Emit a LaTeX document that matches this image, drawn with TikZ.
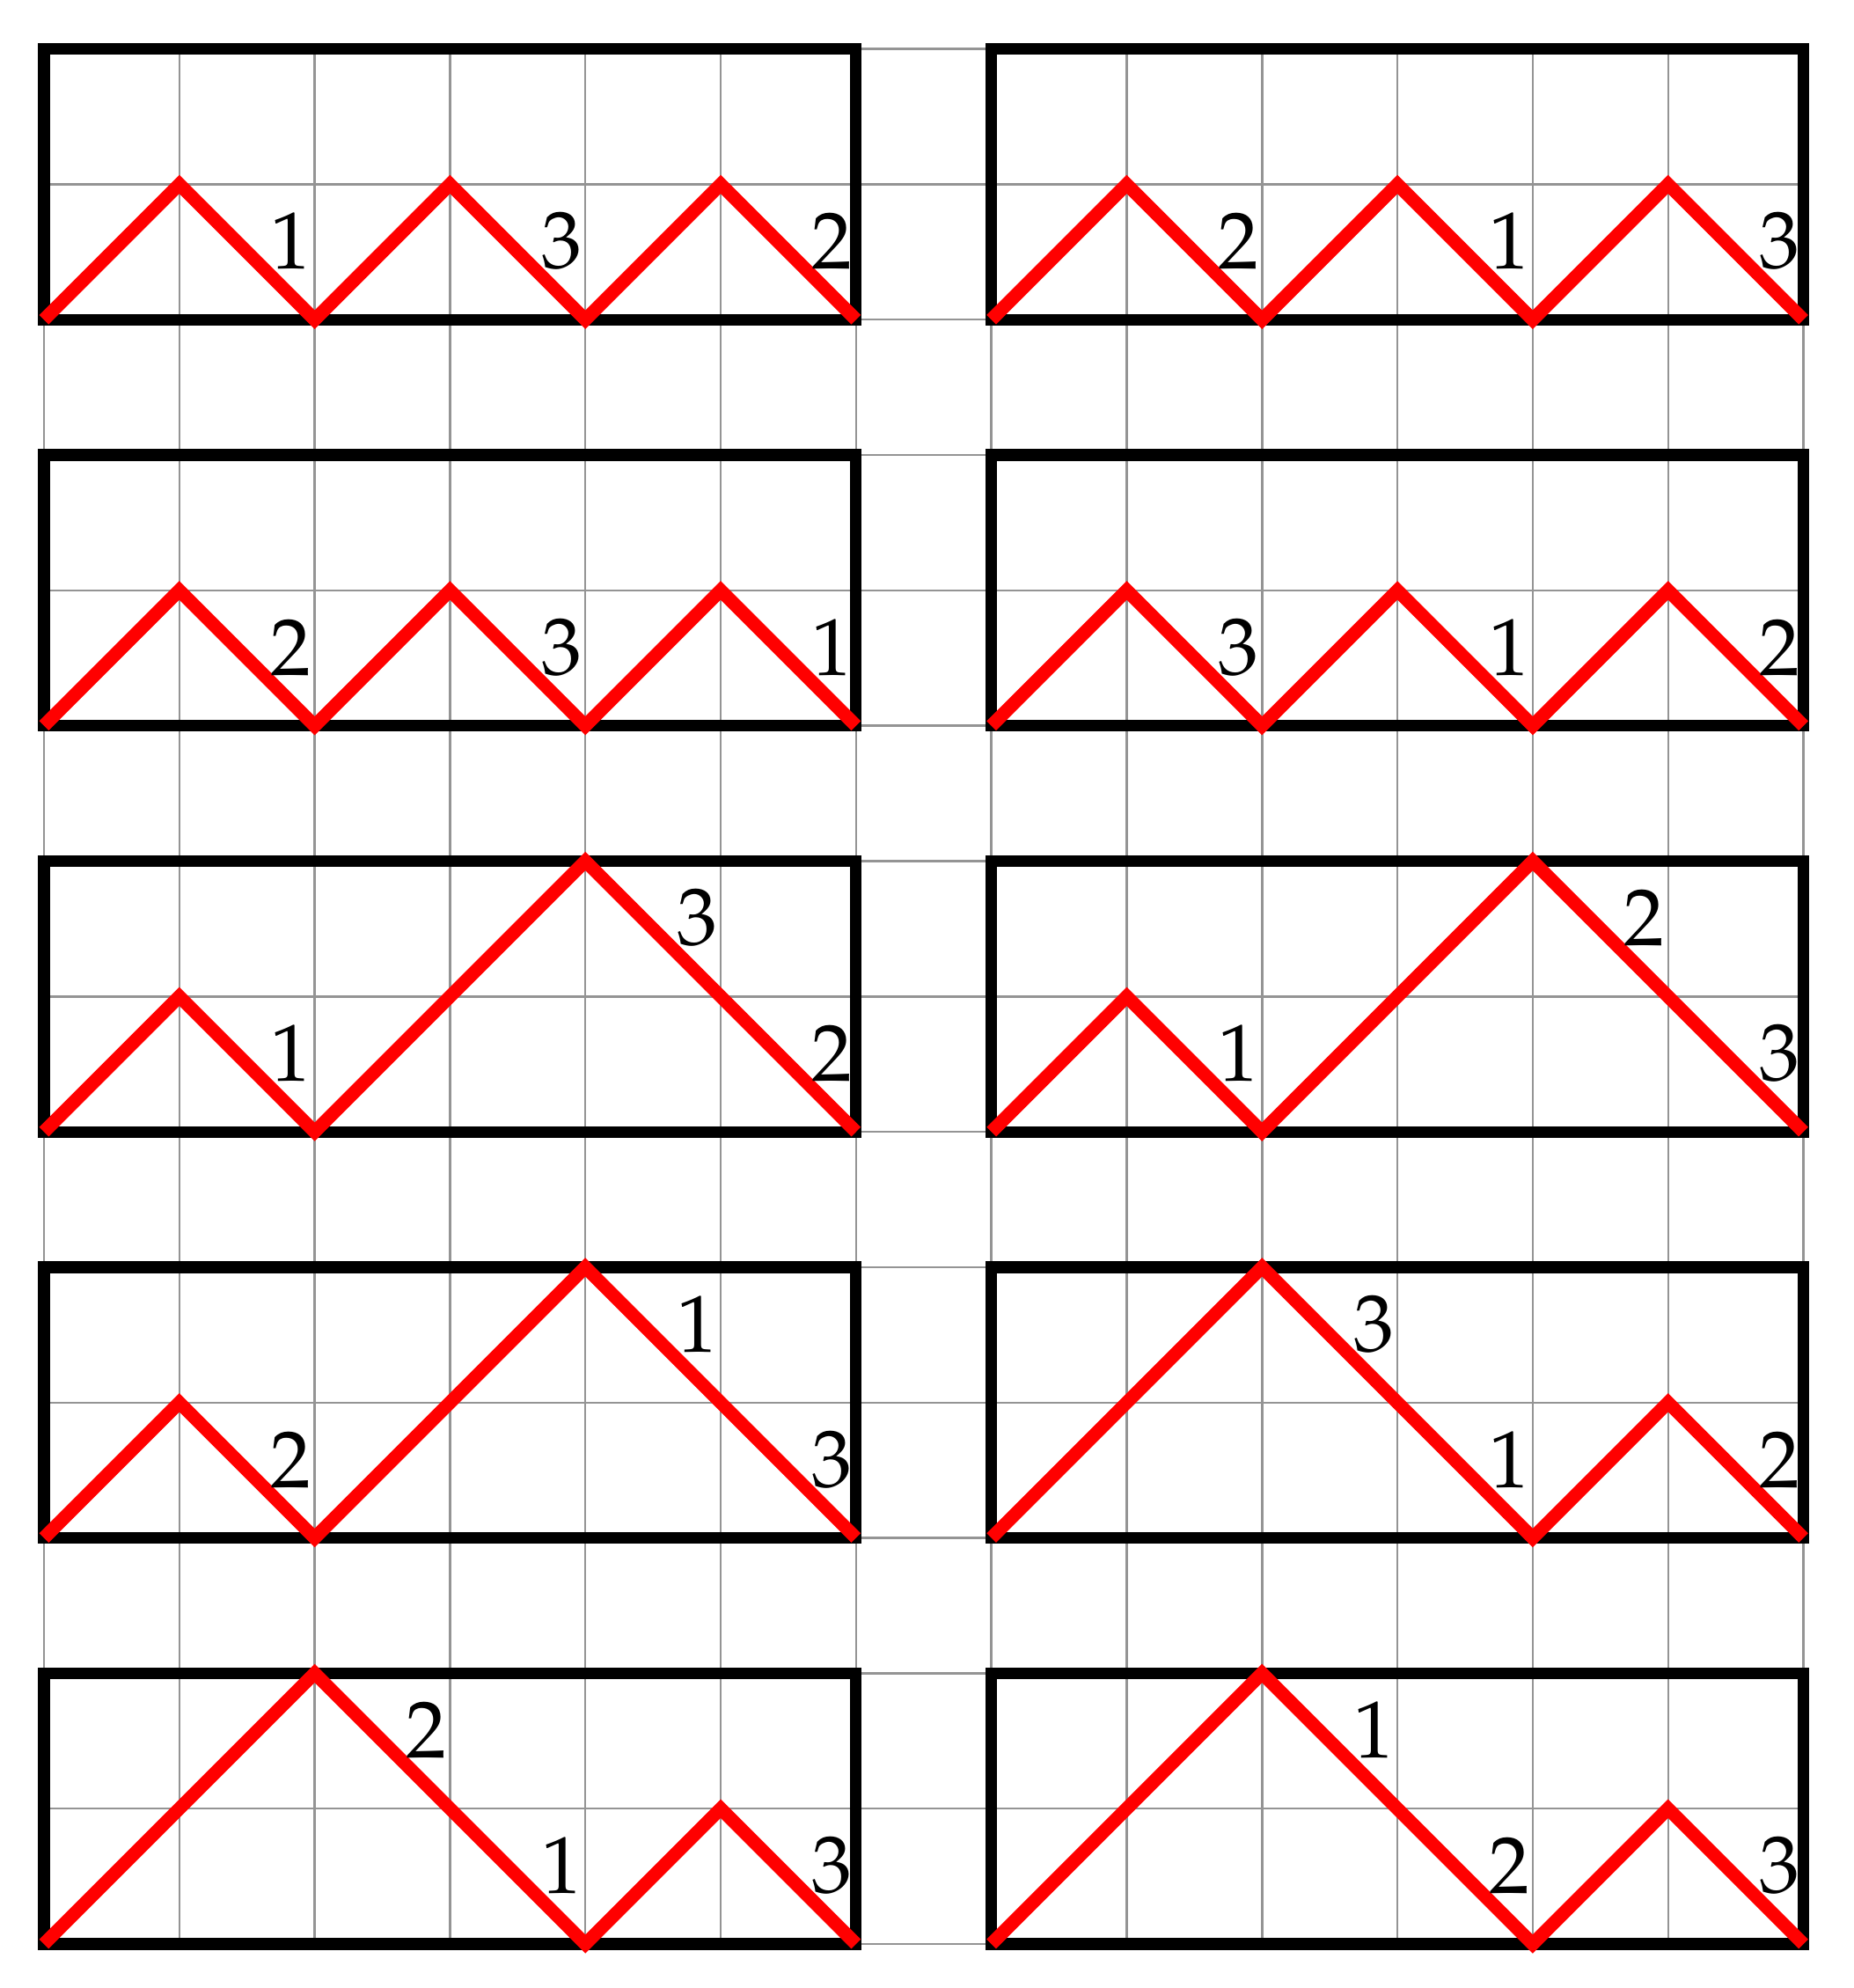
\documentclass[tikz,border=0pt]{standalone}
\usepackage[T1]{fontenc}
\begin{document}
\begin{tikzpicture}[
  gridline/.style={draw=black!42, line width=0.45pt},
  frame/.style={draw=black, line width=2.45pt},
  dyck/.style={draw=red, line width=2.8pt},
  lab/.style={font=\fontencoding{T1}\fontfamily{ppl}\fontsize{17}{20}\selectfont, inner sep=0pt, text=black}
]
\useasboundingbox (-0.325,-0.325) rectangle (13.368,14.362);
% grid
\draw[gridline] (0,0) grid (13,14);
% frames
\foreach \y in {0,3,6,9,12}{
  \draw[frame] (0,\y) rectangle (6,\y+2);
  \draw[frame] (7,\y) rectangle (13,\y+2);
}
% row 1
\draw[dyck] (0,12) -- ++(1,1) -- ++(1,-1) -- ++(1,1) -- ++(1,-1) -- ++(1,1) -- ++(1,-1);
\draw[dyck] (7,12) -- ++(1,1) -- ++(1,-1) -- ++(1,1) -- ++(1,-1) -- ++(1,1) -- ++(1,-1);
\node[lab] (a1) at (1.825,12.58) {1};
\node[lab] (a2) at (3.825,12.58) {3};
\node[lab] (a3) at (5.825,12.58) {2};
\node[lab] (b1) at (8.825,12.58) {2};
\node[lab] (b2) at (10.825,12.58) {1};
\node[lab] (b3) at (12.825,12.58) {3};
% row 2
\draw[dyck] (0,9) -- ++(1,1) -- ++(1,-1) -- ++(1,1) -- ++(1,-1) -- ++(1,1) -- ++(1,-1);
\draw[dyck] (7,9) -- ++(1,1) -- ++(1,-1) -- ++(1,1) -- ++(1,-1) -- ++(1,1) -- ++(1,-1);
\node[lab] (c1) at (1.825,9.58) {2};
\node[lab] (c2) at (3.825,9.58) {3};
\node[lab] (c3) at (5.825,9.58) {1};
\node[lab] (d1) at (8.825,9.58) {3};
\node[lab] (d2) at (10.825,9.58) {1};
\node[lab] (d3) at (12.825,9.58) {2};
% row 3
\draw[dyck] (0,6) -- ++(1,1) -- ++(1,-1) -- ++(1,1) -- ++(1,1) -- ++(1,-1) -- ++(1,-1);
\draw[dyck] (7,6) -- ++(1,1) -- ++(1,-1) -- ++(1,1) -- ++(1,1) -- ++(1,-1) -- ++(1,-1);
\node[lab] (e1) at (1.825,6.58) {1};
\node[lab] (e2) at (4.825,7.58) {3};
\node[lab] (e3) at (5.825,6.58) {2};
\node[lab] (f1) at (8.825,6.58) {1};
\node[lab] (f2) at (11.825,7.58) {2};
\node[lab] (f3) at (12.825,6.58) {3};
% row 4
\draw[dyck] (0,3) -- ++(1,1) -- ++(1,-1) -- ++(1,1) -- ++(1,1) -- ++(1,-1) -- ++(1,-1);
\draw[dyck] (7,3) -- ++(1,1) -- ++(1,1) -- ++(1,-1) -- ++(1,-1) -- ++(1,1) -- ++(1,-1);
\node[lab] (g1) at (1.825,3.58) {2};
\node[lab] (g2) at (4.825,4.58) {1};
\node[lab] (g3) at (5.825,3.58) {3};
\node[lab] (h1) at (9.825,4.58) {3};
\node[lab] (h2) at (10.825,3.58) {1};
\node[lab] (h3) at (12.825,3.58) {2};
% row 5
\draw[dyck] (0,0) -- ++(1,1) -- ++(1,1) -- ++(1,-1) -- ++(1,-1) -- ++(1,1) -- ++(1,-1);
\draw[dyck] (7,0) -- ++(1,1) -- ++(1,1) -- ++(1,-1) -- ++(1,-1) -- ++(1,1) -- ++(1,-1);
\node[lab] (i1) at (2.825,1.58) {2};
\node[lab] (i2) at (3.825,0.58) {1};
\node[lab] (i3) at (5.825,0.58) {3};
\node[lab] (j1) at (9.825,1.58) {1};
\node[lab] (j2) at (10.825,0.58) {2};
\node[lab] (j3) at (12.825,0.58) {3};
\end{tikzpicture}
\end{document}
